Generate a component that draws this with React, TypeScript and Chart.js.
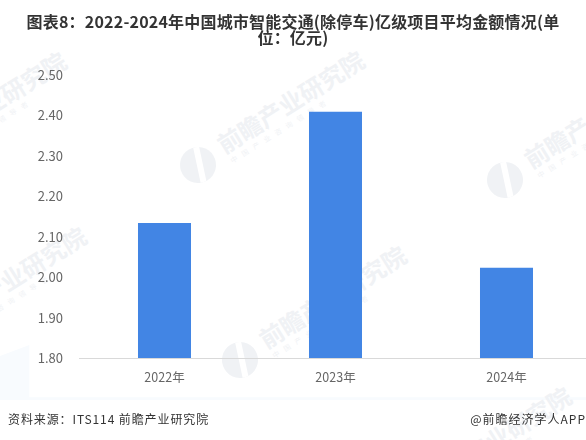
import React, { useRef, useEffect } from 'react';
import { Chart, registerables } from 'chart.js';

Chart.register(...registerables);

const categories = ['2022年', '2023年', '2024年'];
const averageAmount = [2.134, 2.409, 2.023];
const yMin = 1.8;
const yMax = 2.5;
const yStep = 0.1;

const cjk = '"Noto Sans CJK SC", sans-serif';
const markColor = '#f0f2f5';

// faint diagonal watermarks, position of the round logo: [x, y]
const watermarks = [
  [-100, 166], [198, 165], [505, 180],
  [-80, 341], [240, 360], [405, 501],
];

const App: React.FC = () => {
  const chartRef = useRef<HTMLCanvasElement>(null);

  useEffect(() => {
    if (!chartRef.current) return;
    const chart = new Chart(chartRef.current, {
      type: 'bar',
      data: {
        labels: categories,
        datasets: [{
          data: averageAmount,
          backgroundColor: '#4285e4',
          borderWidth: 0,
          barPercentage: 0.31,
          categoryPercentage: 1,
        }],
      },
      options: {
        responsive: false,
        animation: false,
        layout: { padding: { top: 75, right: 8, bottom: 42 } },
        plugins: {
          legend: { display: false },
          tooltip: { enabled: false },
        },
        scales: {
          x: {
            grid: { display: false },
            border: { color: '#d9d9d9' },
            ticks: { color: '#666666', font: { family: cjk, size: 12.5 }, padding: 4 },
            afterFit: (s: any) => { s.height = 40; },
          },
          y: {
            min: yMin,
            max: yMax,
            grid: { display: false, drawTicks: false },
            border: { display: false },
            ticks: {
              stepSize: yStep,
              color: '#666666',
              padding: 16,
              font: { family: cjk, size: 13 },
              callback: (v: any) => Number(v).toFixed(2),
            },
            afterFit: (s: any) => { s.width = 79; },
          },
        },
      },
    });
    return () => chart.destroy();
  }, []);

  return (
    <div style={{ position: 'fixed', left: 0, top: 0, width: 586, height: 440, overflow: 'hidden', background: '#fff', fontFamily: cjk }}>
      <div style={{ position: 'absolute', left: 0, top: 345, width: 586, height: 55, background: '#f8fbfe', clipPath: 'polygon(0 20%, 5% 0, 5% 95%, 100% 95%, 100% 100%, 0 100%)' }} />
      {watermarks.map(([x, y], i) => (
        <div key={i} style={{ position: 'absolute', left: x, top: y, width: 0, height: 0, transform: 'rotate(-32deg)', color: markColor }}>
          <div style={{ position: 'absolute', left: -18, top: -18, width: 36, height: 36, borderRadius: '50%', background: markColor, overflow: 'hidden' }}>
            <div style={{ position: 'absolute', left: 17, top: -4, width: 6, height: 44, background: '#fff', transform: 'rotate(20deg)' }} />
          </div>
          <div style={{ position: 'absolute', left: 28, top: -20, fontSize: 24, lineHeight: '30px', fontWeight: 700, whiteSpace: 'nowrap' }}>前瞻产业研究院</div>
          <div style={{ position: 'absolute', left: 30, top: 10, fontSize: 7, lineHeight: '9px', letterSpacing: 6, whiteSpace: 'nowrap' }}>中国产业咨询领导者</div>
        </div>
      ))}
      <canvas ref={chartRef} width={600} height={440} style={{ position: 'absolute', left: 0, top: 0 }} />
      <div style={{
        position: 'absolute', left: 20, width: 546, top: 13, textAlign: 'center',
        fontSize: 16, lineHeight: '16px', fontWeight: 700, letterSpacing: 0.2, color: '#333333',
      }}>图表8：2022-2024年中国城市智能交通(除停车)亿级项目平均金额情况(单位：亿元)</div>
      <div style={{ position: 'absolute', left: 8, top: 410, fontSize: 12, color: '#333333', letterSpacing: 0.9 }}>资料来源：ITS114 前瞻产业研究院</div>
      <div style={{ position: 'absolute', right: 0, top: 410, fontSize: 12, color: '#333333', letterSpacing: 1 }}>@前瞻经济学人APP</div>
    </div>
  );
};

export default App;
